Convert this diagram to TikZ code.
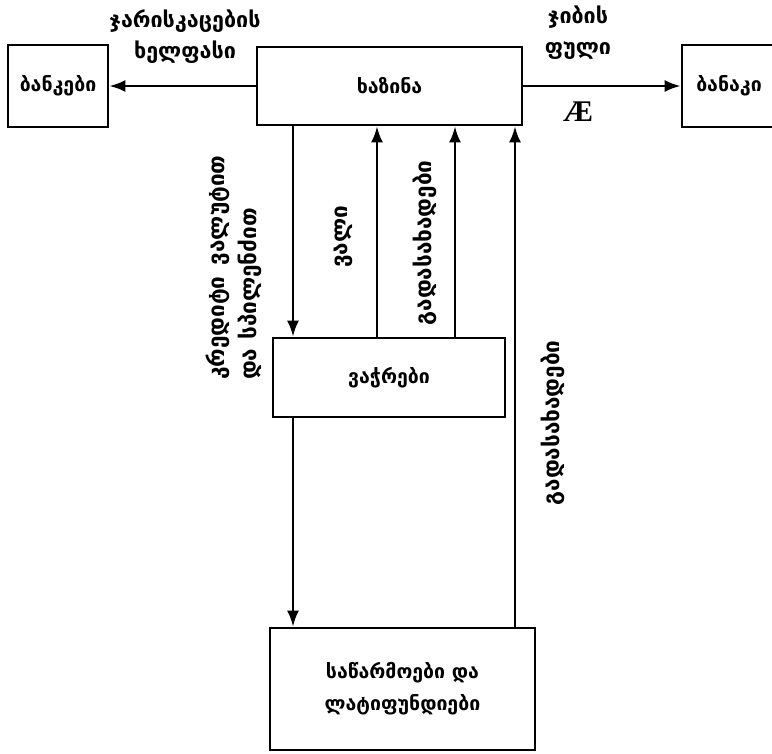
\documentclass[tikz,border=0pt]{standalone}
\usepackage{fontspec}
\setmainfont{DejaVu Sans}
\newfontfamily\aefont{Liberation Serif}
\usetikzlibrary{arrows.meta}
\begin{document}
\begin{tikzpicture}[x=1pt,y=-1pt,
  box/.style={draw, line width=2.8pt, inner sep=0pt},
  conn/.style={line width=2.3pt, -{Latex[length=16pt,width=12pt]}},
  lbl/.style={font=\fontsize{19.5}{32}\selectfont\bfseries, align=center, inner sep=0pt},
  tlbl/.style={lbl, font=\fontsize{21.5}{31}\selectfont\bfseries},
  vlbl/.style={lbl, font=\fontsize{22.5}{32}\selectfont\bfseries, rotate=90}]
\clip (0,0) rectangle (772,754);
\fill[white] (0,0) rectangle (772,754);
% boxes
\node[box, minimum width=100pt, minimum height=82pt, lbl] (bk) at (58,86) {ბანკები};
\node[box, minimum width=265pt, minimum height=78pt, lbl] (xz) at (389.5,86) {ხაზინა};
\node[box, minimum width=140pt, minimum height=82pt] (bn) at (752,86) {};
\node[lbl] (bnt) at (729,86) {ბანაკი};
\node[box, minimum width=232pt, minimum height=79pt, lbl] (vc) at (389,377.5) {ვაჭრები};
\node[box, minimum width=265pt, minimum height=122pt, lbl] (sw) at (402.5,689) {საწარმოები და\\ლატიფუნდიები};
% columns
\coordinate (c1) at (293,0);
\coordinate (c2) at (377,0);
\coordinate (c3) at (455,0);
\coordinate (c4) at (515,0);
% connectors
\draw[conn] (xz.west) -- (bk.east);
\draw[conn] (xz.east) -- (bn.west);
\draw[conn] (c1 |- xz.south) -- (c1 |- vc.north);
\draw[conn] (c2 |- vc.north) -- (c2 |- xz.south);
\draw[conn] (c3 |- vc.north) -- (c3 |- xz.south);
\draw[conn] (c4 |- sw.north) -- (c4 |- xz.south);
\draw[conn] (c1 |- vc.south) -- (c1 |- sw.north);
% labels
\node[tlbl] (l1) at (185,37) {ჯარისკაცების\\ხელფასი};
\node[tlbl] (l2) at (578,33) {ჯიბის\\ფული};
\node[lbl, font=\fontsize{30}{32}\selectfont\aefont\bfseries] (l3) at (578,112) {Æ};
\node[vlbl, align=left, anchor=west] (l4) at (234,380) {კრედიტი\hspace{0.5em}ვალუტით\\და\hspace{0.4em}სპილენძით};
\node[vlbl] (l5) at (343,237) {ვალი};
\node[vlbl] (l6) at (425,243) {გადასახადები};
\node[vlbl] (l7) at (553,423) {გადასახადები};
\end{tikzpicture}
\end{document}
